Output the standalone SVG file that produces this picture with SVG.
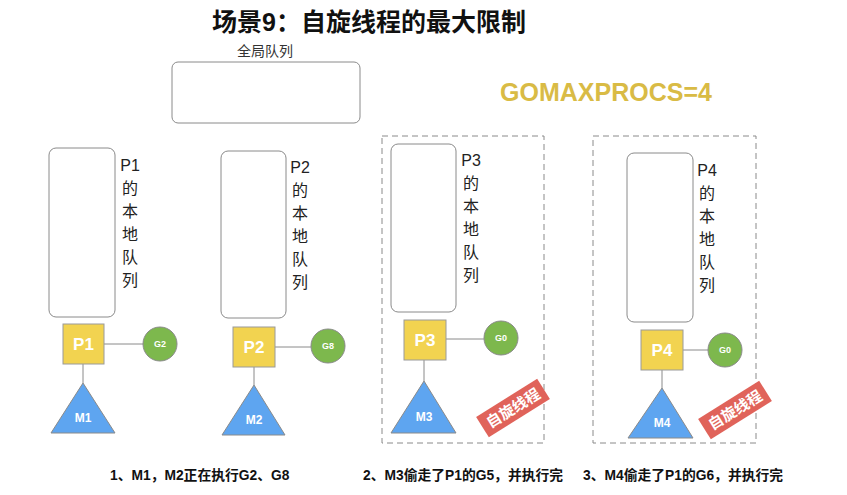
<svg xmlns="http://www.w3.org/2000/svg" width="847" height="495" viewBox="0 0 847 495">
<style>
  text { font-family: "Liberation Sans", "Noto Sans CJK SC", sans-serif; }
  .title { font-size: 25px; font-weight: bold; fill: #111; }
  .queue { fill: #fff; stroke: #8a8a8a; stroke-width: 1; }
  .vlabel { font-size: 16px; fill: #222; text-anchor: middle; }
  .p { fill: #F2D350; stroke: #9a9a9a; stroke-width: 1; }
  .ptext { font-size: 17px; font-weight: bold; fill: #fff; text-anchor: middle; }
  .g { fill: #7DB84D; stroke: #8a8a8a; stroke-width: 1; }
  .gtext { font-size: 9px; font-weight: bold; fill: #fff; text-anchor: middle; }
  .m { fill: #5EA5F0; stroke: #8a8a8a; stroke-width: 1; }
  .mtext { font-size: 12px; font-weight: bold; fill: #fff; text-anchor: middle; }
  .link { stroke: #8a8a8a; stroke-width: 1; fill: none; }
  .dash { fill: none; stroke: #8a8a8a; stroke-width: 1; stroke-dasharray: 6 4; }
  .spin { fill: #E0635A; }
  .spintext { font-size: 15px; font-weight: bold; fill: #fff; text-anchor: middle; }
  .caption { font-size: 13.8px; font-weight: bold; fill: #111; }
</style>

<text class="title" x="369" y="31" text-anchor="middle">场景9：自旋线程的最大限制</text>

<g id="global-queue">
  <text x="265" y="56" font-size="14" fill="#333" text-anchor="middle">全局队列</text>
  <rect class="queue" x="172" y="62" width="188" height="61" rx="6"/>
</g>

<text x="606" y="101" font-size="25" font-weight="bold" fill="#D9BB45" text-anchor="middle">GOMAXPROCS=4</text>

<g id="spin-box-3"><rect class="dash" x="382" y="136" width="162" height="307"/></g>
<g id="spin-box-4"><rect class="dash" x="593" y="136" width="163" height="307"/></g>

<g id="connectors">
  <line class="link" x1="104" y1="344" x2="143" y2="344"/>
  <line class="link" x1="83" y1="364" x2="83" y2="383"/>
  <line class="link" x1="275" y1="347" x2="311" y2="347"/>
  <line class="link" x1="254" y1="367" x2="254" y2="385"/>
  <line class="link" x1="446" y1="339" x2="484" y2="339"/>
  <line class="link" x1="424" y1="360" x2="424" y2="381"/>
  <line class="link" x1="683" y1="350" x2="708" y2="350"/>
  <line class="link" x1="662" y1="370" x2="662" y2="388"/>
</g>

<g id="lq1">
  <rect class="queue" x="49" y="148" width="66" height="169" rx="7"/>
  <text class="vlabel" x="130" y="171">P1</text>
  <text class="vlabel" x="130" y="194">的</text>
  <text class="vlabel" x="130" y="217">本</text>
  <text class="vlabel" x="130" y="240">地</text>
  <text class="vlabel" x="130" y="263">队</text>
  <text class="vlabel" x="130" y="286">列</text>
</g>
<g id="P1"><rect class="p" x="63" y="324" width="41" height="40"/><text class="ptext" x="83.5" y="350">P1</text></g>
<g id="G2"><circle class="g" cx="160" cy="344" r="17"/><text class="gtext" x="160" y="347">G2</text></g>
<g id="M1"><polygon class="m" points="83,383 115,433 51,433"/><text class="mtext" x="83" y="422">M1</text></g>

<g id="lq2">
  <rect class="queue" x="221" y="151" width="65" height="167" rx="7"/>
  <text class="vlabel" x="300" y="173">P2</text>
  <text class="vlabel" x="300" y="196">的</text>
  <text class="vlabel" x="300" y="219">本</text>
  <text class="vlabel" x="300" y="242">地</text>
  <text class="vlabel" x="300" y="265">队</text>
  <text class="vlabel" x="300" y="288">列</text>
</g>
<g id="P2"><rect class="p" x="233" y="327" width="42" height="40"/><text class="ptext" x="254" y="353">P2</text></g>
<g id="G8"><circle class="g" cx="328" cy="346" r="17"/><text class="gtext" x="328" y="349">G8</text></g>
<g id="M2"><polygon class="m" points="254,385 285,435 222,435"/><text class="mtext" x="254" y="424">M2</text></g>

<g id="lq3">
  <rect class="queue" x="391" y="144" width="65" height="168" rx="7"/>
  <text class="vlabel" x="471" y="166">P3</text>
  <text class="vlabel" x="471" y="189">的</text>
  <text class="vlabel" x="471" y="212">本</text>
  <text class="vlabel" x="471" y="235">地</text>
  <text class="vlabel" x="471" y="258">队</text>
  <text class="vlabel" x="471" y="281">列</text>
</g>
<g id="P3"><rect class="p" x="404" y="320" width="42" height="40"/><text class="ptext" x="425" y="346">P3</text></g>
<g id="G0a"><circle class="g" cx="501" cy="338" r="17"/><text class="gtext" x="501" y="341">G0</text></g>
<g id="M3"><polygon class="m" points="424,381 456,433 391,433"/><text class="mtext" x="424" y="421">M3</text></g>
<g id="spin3" transform="translate(513,408) rotate(-32)">
  <rect class="spin" x="-36" y="-12" width="72" height="24"/>
  <text class="spintext" x="0" y="5.5">自旋线程</text>
</g>

<g id="lq4">
  <rect class="queue" x="627" y="153" width="66" height="169" rx="7"/>
  <text class="vlabel" x="707" y="176">P4</text>
  <text class="vlabel" x="707" y="199">的</text>
  <text class="vlabel" x="707" y="222">本</text>
  <text class="vlabel" x="707" y="245">地</text>
  <text class="vlabel" x="707" y="268">队</text>
  <text class="vlabel" x="707" y="291">列</text>
</g>
<g id="P4"><rect class="p" x="641" y="330" width="42" height="40"/><text class="ptext" x="662" y="356">P4</text></g>
<g id="G0b"><circle class="g" cx="725" cy="350" r="17"/><text class="gtext" x="725" y="353">G0</text></g>
<g id="M4"><polygon class="m" points="662,388 693,438 628,438"/><text class="mtext" x="662" y="427">M4</text></g>
<g id="spin4" transform="translate(735,410) rotate(-32)">
  <rect class="spin" x="-36" y="-12" width="72" height="24"/>
  <text class="spintext" x="0" y="5.5">自旋线程</text>
</g>

<text class="caption" x="110" y="480">1、M1，M2正在执行G2、G8</text>
<text class="caption" x="363" y="480">2、M3偷走了P1的G5，并执行完</text>
<text class="caption" x="583" y="480">3、M4偷走了P1的G6，并执行完</text>
</svg>
